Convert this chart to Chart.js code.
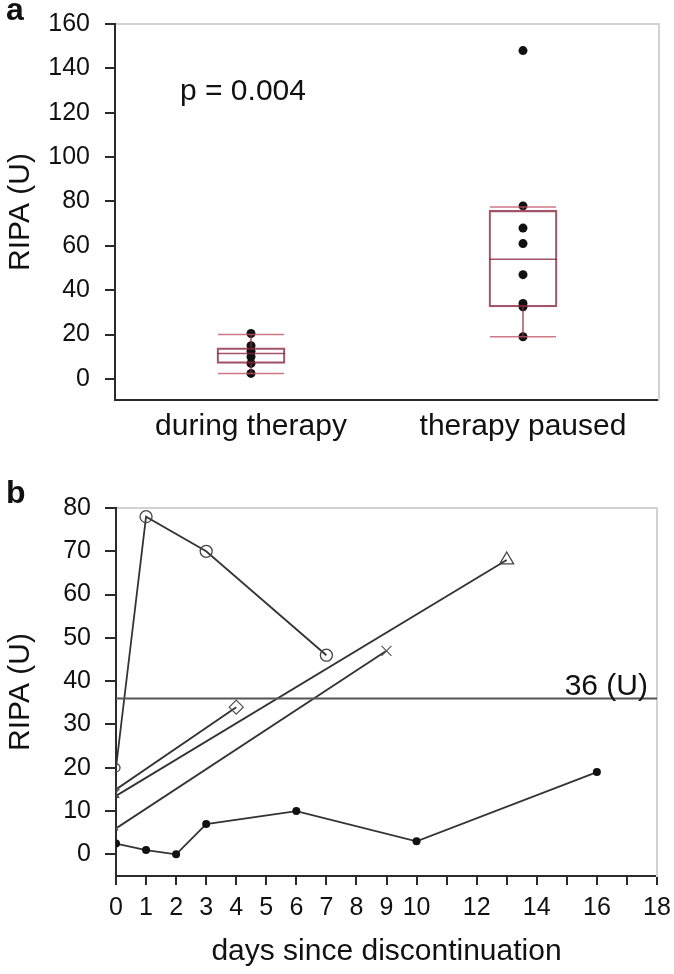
<!DOCTYPE html>
<html>
<head>
<meta charset="utf-8">
<script src="https://cdn.jsdelivr.net/npm/chart.js@4/dist/chart.umd.min.js"></script>
<style>
html,body{margin:0;padding:0;background:#fff;}
body{width:674px;height:974px;position:relative;overflow:hidden;font-family:"Liberation Sans",Arial,sans-serif;color:#111;}
#ca{position:absolute;left:0;top:0;}
#cb{position:absolute;left:0;top:460px;}
.panel{position:absolute;font-weight:bold;font-size:32px;line-height:1;}
.note{position:absolute;font-size:30px;line-height:1;white-space:nowrap;}
</style>
</head>
<body>
<canvas id="ca" width="674" height="455"></canvas>
<canvas id="cb" width="674" height="514"></canvas>
<div class="panel" style="left:6px;top:-7px">a</div>
<div class="panel" style="left:6px;top:476px">b</div>
<div class="note" style="left:180px;top:75px">p = 0.004</div>
<script>
// ---------- Panel a data ----------
const categoriesA = ['during therapy', 'therapy paused'];
const duringTherapyRipa = [20.5, 15, 12.5, 10, 7, 2.5];
const therapyPausedRipa = [148, 78, 68, 61, 47, 34, 32.5, 19];
const boxLower = [7, 32.5];
const boxUpper = [14, 76];
const boxMedian = [11.5, 54];
const whiskerMin = [2.5, 19];
const whiskerMax = [20, 77.5];
const yTicksA = [0, 20, 40, 60, 80, 100, 120, 140, 160];

// ---------- Panel b data ----------
const circleDays = [0, 1, 3, 7];
const circleRipa = [20, 78, 70, 46];
const diamondDays = [0, 4];
const diamondRipa = [15, 34];
const triangleDays = [0, 13];
const triangleRipa = [13.5, 68];
const crossDays = [0, 9];
const crossRipa = [6, 47];
const dotDays = [0, 1, 2, 3, 6, 10, 16];
const dotRipa = [2.5, 1, 0, 7, 10, 3, 19];
const thresholdRipa = 36;
const thresholdLabel = '36 (U)';
const xRangeB = [0, 18];
const yTicksB = [0, 10, 20, 30, 40, 50, 60, 70, 80];

Chart.defaults.font.family = '"Liberation Sans", Arial, sans-serif';
Chart.defaults.color = '#111';
Chart.defaults.animation = false;

const boxColor = 'rgba(140,40,65,0.8)';
const capColor = 'rgba(195,85,105,0.8)';
const axisColor = '#2a2a2a';
const frameColor = '#d2d2d2';
const textColor = '#111';

function noPad(s) { s.paddingLeft = 0; s.paddingRight = 0; s.paddingTop = 0; s.paddingBottom = 0; }

// ---------- Panel a ----------
const pts = (cat, arr) => arr.map(v => ({x: cat, y: v}));
const dsA = [];
dsA.push({
  type: 'bar',
  data: categoriesA.map((c, i) => [boxLower[i], boxUpper[i]]),
  backgroundColor: 'rgba(0,0,0,0)',
  borderColor: boxColor,
  borderWidth: 1.5,
  borderSkipped: false,
  barThickness: 68,
  order: 1
});
categoriesA.forEach((c, i) => {
  dsA.push({type: 'line', data: [{x: c, y: whiskerMin[i]}, {x: c, y: boxLower[i]}],
    borderColor: boxColor, borderWidth: 1.5, pointRadius: 0, order: 1});
  dsA.push({type: 'line', data: [{x: c, y: boxUpper[i]}, {x: c, y: whiskerMax[i]}],
    borderColor: boxColor, borderWidth: 1.5, pointRadius: 0, order: 1});
});
dsA.push({type: 'line', showLine: false,
  data: categoriesA.flatMap((c, i) => [{x: c, y: whiskerMin[i]}, {x: c, y: whiskerMax[i]}]),
  pointStyle: 'line', pointRadius: 33, pointBorderColor: capColor, pointBorderWidth: 1.5, order: 0});
dsA.push({type: 'line', showLine: false,
  data: categoriesA.map((c, i) => ({x: c, y: boxMedian[i]})),
  pointStyle: 'line', pointRadius: 34, pointBorderColor: boxColor, pointBorderWidth: 1.5, order: 0});
dsA.push({type: 'line', showLine: false,
  data: pts(categoriesA[0], duringTherapyRipa).concat(pts(categoriesA[1], therapyPausedRipa)),
  pointRadius: 4.5, pointBackgroundColor: '#111', pointBorderColor: '#111', pointBorderWidth: 0, order: 5});

new Chart(document.getElementById('ca'), {
  type: 'bar',
  data: {labels: categoriesA, datasets: dsA},
  options: {
    responsive: false,
    devicePixelRatio: 1,
    layout: {autoPadding: false, padding: {top: 24, right: 15, bottom: 0, left: 0}},
    plugins: {legend: {display: false}, tooltip: {enabled: false}},
    scales: {
      x: {
        type: 'category', position: 'bottom', offset: true,
        grid: {display: false, drawTicks: false},
        border: {display: true, color: axisColor, width: 2},
        ticks: {font: {size: 30}, padding: 9, maxRotation: 0, color: textColor},
        afterFit(s) { s.height = 55; noPad(s); }
      },
      xTop: {
        type: 'category', position: 'top', labels: categoriesA,
        grid: {display: false, drawTicks: false}, ticks: {display: false},
        border: {display: true, color: frameColor, width: 2},
        afterFit(s) { s.height = 0; noPad(s); }
      },
      y: {
        type: 'linear', position: 'left', min: -9.5, max: 160,
        afterBuildTicks(s) { s.ticks = yTicksA.map(v => ({value: v})); },
        grid: {drawOnChartArea: false, drawTicks: true, tickLength: 10, color: axisColor, lineWidth: 2},
        border: {display: true, color: axisColor, width: 2},
        ticks: {font: {size: 25}, padding: 15, color: textColor},
        title: {display: true, text: 'RIPA (U)', font: {size: 30}, padding: {top: 3, bottom: 0}, color: textColor},
        afterFit(s) { s.width = 115; noPad(s); }
      },
      yRight: {
        type: 'linear', position: 'right', min: -9.5, max: 160,
        grid: {display: false, drawTicks: false}, ticks: {display: false},
        border: {display: true, color: frameColor, width: 2},
        afterFit(s) { s.width = 0; noPad(s); }
      }
    }
  }
});

// ---------- Panel b ----------
const xy = (xs, ys) => xs.map((x, i) => ({x: x, y: ys[i]}));
const lineCol = '#333';
const thresholdLabelPlugin = {
  id: 'thresholdLabel',
  afterDatasetsDraw(chart) {
    const ctx = chart.ctx;
    const y = chart.scales.y.getPixelForValue(thresholdRipa);
    ctx.save();
    ctx.font = '30px "Liberation Sans", Arial, sans-serif';
    ctx.fillStyle = textColor;
    ctx.textAlign = 'right';
    ctx.textBaseline = 'alphabetic';
    ctx.fillText(thresholdLabel, chart.chartArea.right - 9, y - 3);
    ctx.restore();
  }
};

new Chart(document.getElementById('cb'), {
  type: 'line',
  data: {
    datasets: [
      {data: [{x: xRangeB[0], y: thresholdRipa}, {x: xRangeB[1], y: thresholdRipa}],
        borderColor: '#555', borderWidth: 2, pointRadius: 0},
      {data: xy(circleDays, circleRipa), borderColor: lineCol, borderWidth: 1.8,
        pointStyle: 'circle', pointRadius: [4, 6, 6, 6], pointBorderColor: '#444', pointBorderWidth: 1.3,
        pointBackgroundColor: 'rgba(255,255,255,0)'},
      {data: xy(diamondDays, diamondRipa), borderColor: lineCol, borderWidth: 1.8,
        pointStyle: 'rectRot', pointRadius: [3, 7], pointBorderColor: '#555', pointBorderWidth: 1.3,
        pointBackgroundColor: 'rgba(255,255,255,0)'},
      {data: xy(triangleDays, triangleRipa), borderColor: lineCol, borderWidth: 1.8,
        pointStyle: 'triangle', pointRadius: [3, 8], pointBorderColor: '#444', pointBorderWidth: 1.3,
        pointBackgroundColor: 'rgba(255,255,255,0)'},
      {data: xy(crossDays, crossRipa), borderColor: lineCol, borderWidth: 1.8,
        pointStyle: 'crossRot', pointRadius: [3, 7], pointBorderColor: '#555', pointBorderWidth: 1.2,
        pointBackgroundColor: 'rgba(255,255,255,0)'},
      {data: xy(dotDays, dotRipa), borderColor: lineCol, borderWidth: 1.8,
        pointStyle: 'circle', pointRadius: 4, pointBorderColor: '#111', pointBorderWidth: 0,
        pointBackgroundColor: '#111'}
    ]
  },
  options: {
    responsive: false,
    devicePixelRatio: 1,
    layout: {autoPadding: false, padding: {top: 48, right: 17, bottom: 0, left: 0}},
    plugins: {legend: {display: false}, tooltip: {enabled: false}},
    scales: {
      x: {
        type: 'linear', position: 'bottom', min: xRangeB[0], max: xRangeB[1],
        grid: {drawOnChartArea: false, drawTicks: true, tickLength: 9, color: axisColor, lineWidth: 2},
        border: {display: true, color: axisColor, width: 2},
        ticks: {stepSize: 1, autoSkip: false, maxRotation: 0, font: {size: 25}, padding: 8, color: textColor,
          callback: v => (v <= 10 || v % 2 === 0) ? String(v) : ''},
        title: {display: true, text: 'days since discontinuation', font: {size: 30}, padding: {top: 0, bottom: 4}, color: textColor},
        afterFit(s) { s.height = 98; noPad(s); }
      },
      xTop: {
        type: 'linear', position: 'top', min: xRangeB[0], max: xRangeB[1],
        grid: {display: false, drawTicks: false}, ticks: {display: false},
        border: {display: true, color: frameColor, width: 2},
        afterFit(s) { s.height = 0; noPad(s); }
      },
      y: {
        type: 'linear', position: 'left', min: -5, max: 80,
        afterBuildTicks(s) { s.ticks = yTicksB.map(v => ({value: v})); },
        grid: {drawOnChartArea: false, drawTicks: true, tickLength: 11, color: axisColor, lineWidth: 2},
        border: {display: true, color: axisColor, width: 2},
        ticks: {font: {size: 25}, padding: 14, color: textColor},
        title: {display: true, text: 'RIPA (U)', font: {size: 30}, padding: {top: 3, bottom: 0}, color: textColor},
        afterFit(s) { s.width = 116; noPad(s); }
      },
      yRight: {
        type: 'linear', position: 'right', min: -5, max: 80,
        grid: {display: false, drawTicks: false}, ticks: {display: false},
        border: {display: true, color: frameColor, width: 2},
        afterFit(s) { s.width = 0; noPad(s); }
      }
    }
  },
  plugins: [thresholdLabelPlugin]
});
</script>
</body>
</html>
